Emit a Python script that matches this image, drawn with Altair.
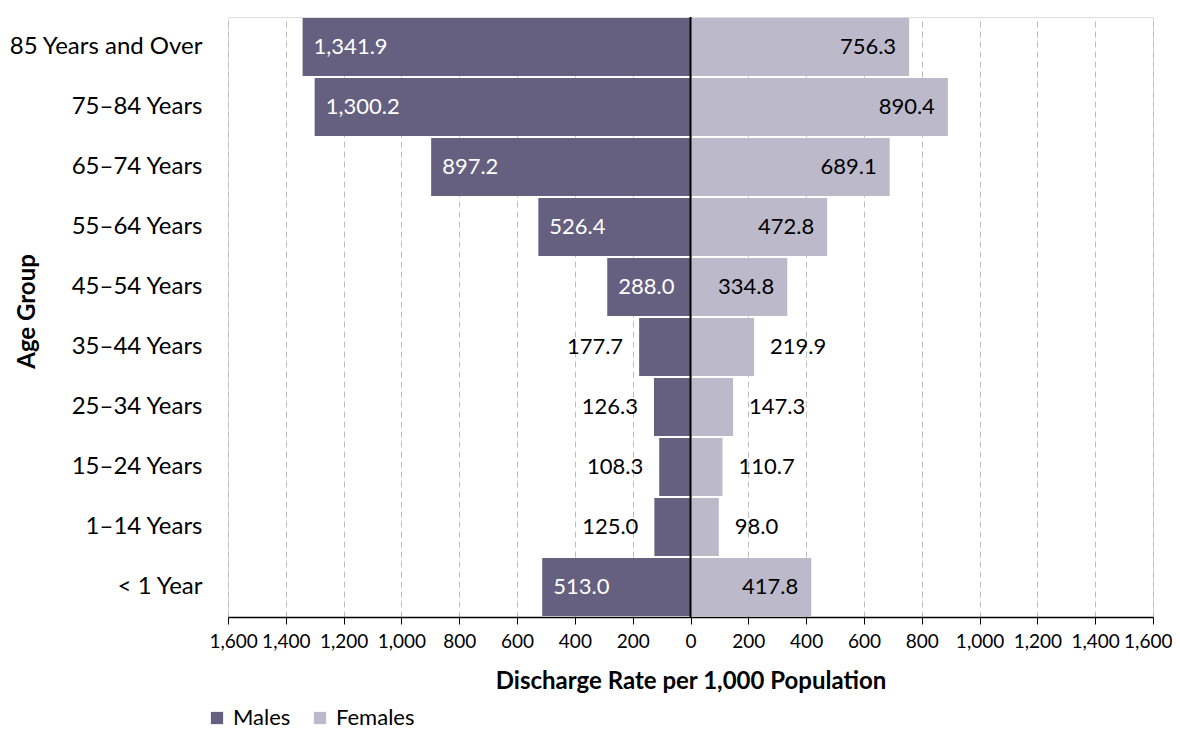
import altair as alt
import pandas as pd

categories = ["85 Years and Over", "75–84 Years", "65–74 Years", "55–64 Years",
              "45–54 Years", "35–44 Years", "25–34 Years", "15–24 Years",
              "1–14 Years", "< 1 Year"]
males = [1341.9, 1300.2, 897.2, 526.4, 288.0, 177.7, 126.3, 108.3, 125.0, 513.0]
females = [756.3, 890.4, 689.1, 472.8, 334.8, 219.9, 147.3, 110.7, 98.0, 417.8]
groups = ["Males", "Females"]
colors = ["#656080", "#BCB9CA"]
tick_values = list(range(-1600, 1601, 200))

rows = []
for c, m, f in zip(categories, males, females):
    rows.append({"age": c, "group": "Males", "value": m, "signed": -m})
    rows.append({"age": c, "group": "Females", "value": f, "signed": f})
df = pd.DataFrame(rows)

FONT = "Lato"

x_scale = alt.Scale(domain=[-1600, 1600], nice=False, zero=False)
y_enc = alt.Y("age:N", sort=categories,
              scale=alt.Scale(paddingInner=0.03, paddingOuter=0.015),
              axis=alt.Axis(title="Age Group", labelFontSize=24, labelFont=FONT,
                            labelColor="#000", ticks=False, domain=False,
                            labelPadding=26, labelLimit=400, titleFontSize=24, titleFont=FONT,
                            titleFontWeight="bold", titleColor="#000",
                            titleAngle=-90, titleX=-201, titleY=294,
                            titleAlign="center", titleBaseline="middle"))

base = alt.Chart(df)

bars = base.mark_bar(stroke=None).encode(
    x=alt.X("signed:Q", scale=x_scale,
            axis=alt.Axis(values=tick_values, labelExpr="format(abs(datum.value), ',')",
                          title="Discharge Rate per 1,000 Population",
                          labelFontSize=19, labelFont=FONT, labelColor="#000",
                          labelPadding=8, tickSize=7, tickColor="#000",
                          domainColor="#000", domainWidth=1.5,
                          grid=True, gridDash=[6, 4], gridColor="#BDBDBD",
                          titleFontSize=24, titleFont=FONT, titleFontWeight="bold",
                          titleColor="#000", titlePadding=18,
                          labelFlush=True, labelFlushOffset=19)),
    y=y_enc,
    color=alt.Color("group:N", scale=alt.Scale(domain=groups, range=colors),
                    legend=alt.Legend(title=None, orient="none", legendX=-22, legendY=690,
                                      direction="horizontal", symbolType="square",
                                      symbolSize=150, symbolStrokeWidth=0,
                                      labelFontSize=22, labelFont=FONT, labelColor="#000",
                                      columnPadding=18, labelOffset=5)),
)

zero = alt.Chart(pd.DataFrame({"z": [0]})).mark_rule(color="#000", strokeWidth=2).encode(
    x=alt.X("z:Q", scale=x_scale))

def lbl(group, inside, align, dx, color):
    cond = "datum.value >= 250" if inside else "datum.value < 250"
    return base.transform_filter(f"datum.group == '{group}' && {cond}").mark_text(
        align=align, baseline="middle", dx=dx, fontSize=22, font=FONT, color=color
    ).encode(
        x=alt.X("signed:Q", scale=x_scale),
        y=alt.Y("age:N", sort=categories),
        text=alt.Text("value:Q", format=",.1f"),
    )

layers = [bars, zero,
          lbl("Males", True, "left", 11, "#FFFFFF"),
          lbl("Males", False, "right", -16, "#000000"),
          lbl("Females", True, "right", -13, "#000000"),
          lbl("Females", False, "left", 16, "#000000")]

chart = alt.layer(*layers).properties(
    width=925, height=600,
    autosize=alt.AutoSizeParams(type="none"),
    padding={"left": 220, "top": 9, "right": 19, "bottom": 117},
).configure_view(stroke="#888888", strokeWidth=1).configure(background="#FFFFFF")

chart.save("out.html", embed_options={"renderer": "svg", "actions": False})
